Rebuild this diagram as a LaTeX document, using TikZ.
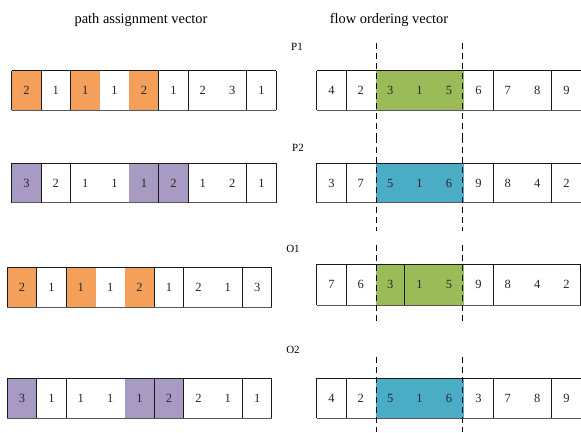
\documentclass[tikz,border=0pt]{standalone}
\usepackage{fontspec}
\setmainfont{Liberation Serif}
\definecolor{cellorange}{HTML}{F5A05A}
\definecolor{cellpurple}{HTML}{A89BC3}
\definecolor{cellgreen}{HTML}{9BBB59}
\definecolor{cellblue}{HTML}{4BACC6}
\def\cellw{29.4}
% one vector of nine cells: name, left x, top y, bottom y, digits, separator indices
\newcommand{\vecrow}[6]{%
  \draw[rowedge] (#2,#3) -- ({#2+9*\cellw},#3);
  \draw[rowbottom] (#2,#4) -- ({#2+9*\cellw},#4);
  \draw[rowedge] (#2,#3) -- (#2,#4);
  \foreach \k in {#6} \draw[rowedge] ({#2+\k*\cellw},#3) -- ({#2+\k*\cellw},#4);
  \foreach \d [count=\i] in {#5}
    \node[digit] (#1-\i) at ({#2+(\i-0.5)*\cellw},{(#3+#4)/2}) {\d};
}
% filled cells from index a to b (inclusive)
\newcommand{\cellfill}[6]{%
  \fill[#1] ({#2+(#5-1)*\cellw},#3) rectangle ({#2+#6*\cellw},#4);
}
\begin{document}
\begin{tikzpicture}[x=1pt,y=-1pt,
  digit/.style={font=\fontsize{12.5}{14}\selectfont, text=black!85, inner sep=0pt},
  title/.style={font=\fontsize{14.4}{17}\selectfont, inner sep=0pt},
  rowlabel/.style={font=\fontsize{11}{13}\selectfont, inner sep=0pt},
  rowedge/.style={line width=1pt, black!90},
  rowbottom/.style={line width=1pt, black!65},
  cut/.style={line width=1pt, dash pattern=on 6pt off 4pt, black}]
\useasboundingbox (0,0) rectangle (581,432);
\fill[white] (0,0) rectangle (581,432);

% titles and row labels
\node[title] (ttlpath) at (141,20) {path assignment vector};
\node[title] (ttlflow) at (389,20) {flow ordering vector};
\node[rowlabel] (lblP1) at (297,47) {P1};
\node[rowlabel] (lblP2) at (298,148) {P2};
\node[rowlabel] (lblO1) at (293,249) {O1};
\node[rowlabel] (lblO2) at (293,350) {O2};

% coloured cells
\foreach \c in {1,3,5} {
  \cellfill{cellorange}{11.7}{70.7}{110}{\c}{\c}
  \cellfill{cellorange}{7.3}{267.5}{307.3}{\c}{\c}
}
\foreach \c in {1,5,6} {
  \cellfill{cellpurple}{11.7}{163.3}{202.7}{\c}{\c}
  \cellfill{cellpurple}{7.3}{378.3}{418.3}{\c}{\c}
}
\cellfill{cellgreen}{316.7}{70.7}{110}{3}{5}
\cellfill{cellblue}{316.7}{163.3}{202.7}{3}{5}
\cellfill{cellgreen}{316.7}{264.3}{305}{3}{5}
\cellfill{cellblue}{316.7}{378.3}{418.3}{3}{5}

% path assignment vectors
\vecrow{pa}{11.7}{70.7}{110}{2,1,1,1,2,1,2,3,1}{1,2,5,6,8,9}
\vecrow{pb}{11.7}{163.3}{202.7}{3,2,1,1,1,2,1,2,1}{1,2,5,6,8,9}
\vecrow{pc}{7.3}{267.5}{307.3}{2,1,1,1,2,1,2,1,3}{1,2,5,6,8,9}
\vecrow{pd}{7.3}{378.3}{418.3}{3,1,1,1,1,2,2,1,1}{1,2,5,6,8,9}

% flow ordering vectors
\vecrow{fa}{316.7}{70.7}{110}{4,2,3,1,5,6,7,8,9}{1,6,8}
\vecrow{fb}{316.7}{163.3}{202.7}{3,7,5,1,6,9,8,4,2}{1,6,8}
\vecrow{fc}{316.7}{264.3}{305}{7,6,3,1,5,9,8,4,2}{1,3,6}
\draw[rowedge] (580.5,264.3) -- (580.5,305);
\vecrow{fd}{316.7}{378.3}{418.3}{4,2,5,1,6,3,7,8,9}{1,6,8}

% crossover cut lines
\foreach \x in {376.7,462.7} {
  \draw[cut] (\x,43) -- (\x,137);
  \draw[cut] (\x,137) -- (\x,231);
  \draw[cut] (\x,245) -- (\x,323);
  \draw[cut] (\x,357) -- (\x,432);
}
\end{tikzpicture}
\end{document}
